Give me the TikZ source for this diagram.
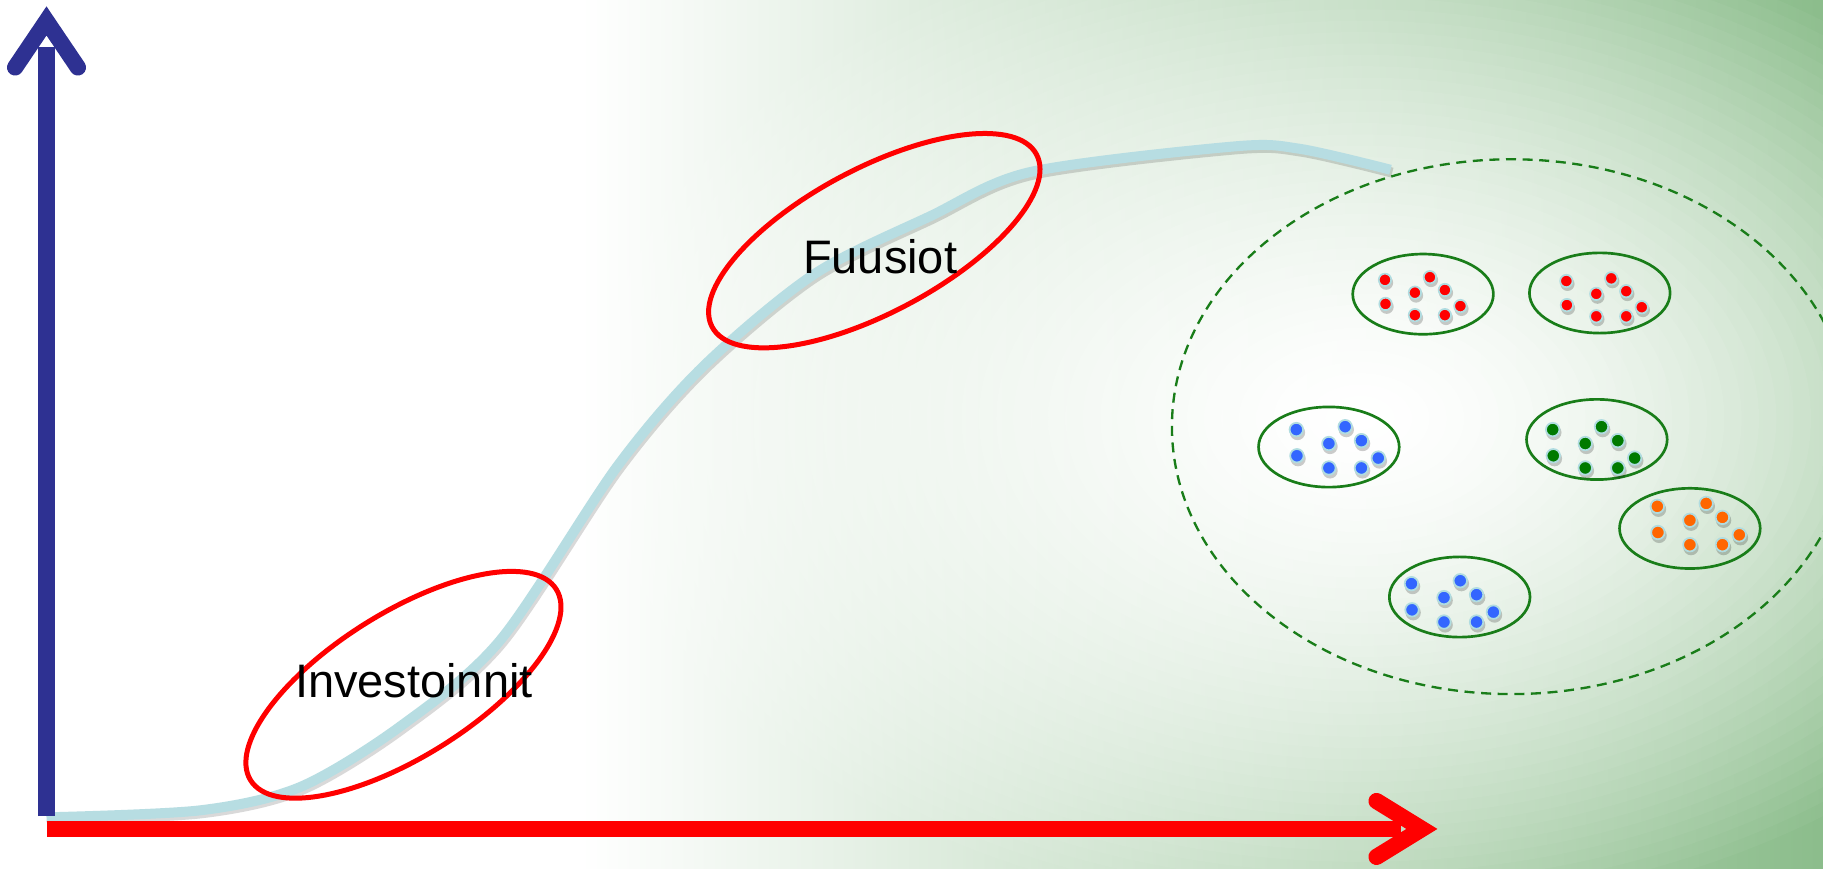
\documentclass[tikz,border=0pt]{standalone}
\usepackage{fontspec}
\setmainfont{Liberation Sans}
\definecolor{axisblue}{RGB}{46,49,146}
\definecolor{curveblue}{RGB}{183,221,226}
\definecolor{bggreen}{RGB}{110,172,110}
\definecolor{ringgreen}{RGB}{25,125,25}
\definecolor{dotred}{RGB}{255,0,0}
\definecolor{dotblue}{RGB}{51,102,255}
\definecolor{dotgreen}{RGB}{0,122,0}
\definecolor{dotorange}{RGB}{255,102,0}
\definecolor{dotrim}{RGB}{176,220,224}

\begin{document}
\begin{tikzpicture}[x=0.1mm, y=-0.1mm,
	axis/.style={line width=1.4mm},
	head/.style={line width=1.4mm, line cap=round, line join=miter},
	ring/.style={draw=red, line width=0.43mm},
	cluster/.style={draw=ringgreen, line width=0.23mm},
	label/.style={font=\fontsize{11.5}{13}\selectfont, anchor=base, inner sep=0pt}]
	\useasboundingbox (0,0) rectangle (1568,747);

	% background: green from the right, white swirl round the groups
	\fill[white] (0,0) rectangle (1568,747);
	\shade[left color=white, right color=bggreen] (499,0) rectangle (1841,747);
	\foreach \k in {45,44,...,1}{
		\pgfmathsetmacro\f{\k/45}
		\pgfmathsetmacro\rx{671*\f}
		\pgfmathsetmacro\ry{440*\f}
		\pgfmathsetmacro\gl{100*\f^1.5*((671-\rx)/1342)}
		\pgfmathsetmacro\gr{100*\f^1.5*((671+\rx)/1342)}
		\shade[left color=bggreen!\gl!white, right color=bggreen!\gr!white] (1170,360) ellipse [x radius=\rx, y radius=\ry];
	}

	% cloud of groups
	\draw[ringgreen, line width=0.2mm, dash pattern=on 0.86mm off 0.57mm] (1300,367) ellipse [x radius=292, y radius=230];

	% the curve
	\draw[black, opacity=0.15, line width=0.86mm, shift={(1.5,2.5)}] plot[smooth] coordinates {(40,703) (172,697) (258,677) (344,625) (430,551) (531,401) (605,315) (700,236) (800,186) (886,148) (1061,126) (1118,128) (1196,146)};
	\draw[curveblue, line width=0.86mm] plot[smooth] coordinates {(40,703) (172,697) (258,677) (344,625) (430,551) (531,401) (605,315) (700,236) (800,186) (886,148) (1061,126) (1118,128) (1196,146)};

	\draw[ring, shift={(347,589)}, rotate=32] (0,0) ellipse [x radius=155, y radius=62];
	\draw[ring, shift={(752,207)}, rotate=28] (0,0) ellipse [x radius=158, y radius=62];
	\node[label] (invest) at (356,600) {Investoinnit};
	\node[label] (fusion) at (757,235) {Fuusiot};

	% axes
	\coordinate (origin) at (40,713);
	\coordinate (ytop) at (40,18);
	\coordinate (xend) at (1223,713);
	\draw[axisblue, axis] (40,702) -- (40,40);
	\draw[axisblue, head] (13,58) -- (ytop) -- (67,58);
	\draw[red, axis] (origin) -- (1205,713);
	\draw[red, head] (1184,689) -- (xend) -- (1184,737);

	% groups
	\foreach \cx/\cy/\dx/\dy/\s/\c in {1224/253/-7/1.5/0.92/dotred, 1376/252/-3/3.5/0.92/dotred,
		1143/384.5/0/0/1/dotblue, 1373.5/378/-10/6.5/1/dotgreen,
		1453.5/454.5/0/-4/1/dotorange, 1255.5/513.5/-13.5/3.5/1/dotblue}{
		\draw[cluster] (\cx,\cy) ellipse [x radius=60.5, y radius=34.5];
		\foreach \px/\py in {-28/-15, 14/-17.5, 0/-3, 28/-5.5, -27.5/7.5, 0/18, 28/18, 42.5/9.5}{
			\fill[black, opacity=0.2] ({\cx+(\dx)+\s*(\px)+1},{\cy+(\dy)+\s*(\py)+2.5}) circle [radius=6.6*\s];
			\fill[\c, draw=dotrim, line width=0.15mm] ({\cx+(\dx)+\s*(\px)},{\cy+(\dy)+\s*(\py)}) circle [radius=5.8*\s];
		}
	}
\end{tikzpicture}
\end{document}
